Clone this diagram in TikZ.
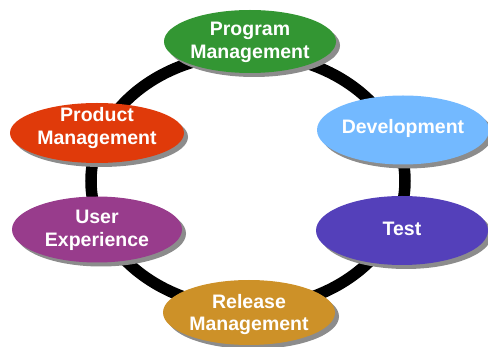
\documentclass[tikz,border=0pt]{standalone}
\usepackage{fontspec}
\setmainfont{Liberation Sans}
\usetikzlibrary{shapes.geometric,shadows}
\definecolor{pmgreen}{RGB}{51,150,51}
\definecolor{prodred}{RGB}{224,58,10}
\definecolor{devblue}{RGB}{115,185,255}
\definecolor{testpurple}{RGB}{84,64,186}
\definecolor{uxmagenta}{RGB}{152,60,140}
\definecolor{relgold}{RGB}{205,145,40}
\definecolor{shadowgray}{RGB}{140,140,140}
\tikzset{
  phase/.style={ellipse, inner sep=0pt, minimum width=172pt, minimum height=65pt,
    drop shadow={fill=shadowgray, opacity=1, shadow xshift=4pt, shadow yshift=-4pt}},
  phasetext/.style={inner sep=0pt, text=white, align=center,
    font=\bfseries\fontsize{19.5}{22.5}\selectfont},
  ring/.style={line width=11.5pt, draw=black}
}
\begin{document}
\begin{tikzpicture}[x=1pt,y=-1pt]
\useasboundingbox (0,0) rectangle (488,347);
\coordinate (ringc) at (248,181);
\draw[ring] (ringc) ellipse [x radius=157pt, y radius=127pt];
\node[phase, fill=pmgreen, minimum height=63pt] (pm) at (250,41.5) {};
\node[phase, fill=devblue, minimum height=69pt] (dev) at (403,130) {};
\node[phase, fill=testpurple, minimum height=69pt] (test) at (402,230.5) {};
\node[phase, fill=relgold] (rel) at (249,312.5) {};
\node[phase, fill=uxmagenta, minimum width=170pt, minimum height=66pt] (ux) at (97,229.5) {};
\node[phase, fill=prodred, minimum width=174pt, minimum height=60pt] (prod) at (97,133) {};
\node[phasetext] (pmt) at ([yshift=-1pt]pm.center) {Program\\Management};
\node[phasetext] (devt) at ([yshift=2pt]dev.center) {Development};
\node[phasetext] (testt) at ([yshift=2pt]test.center) {Test};
\node[phasetext] (relt) at ([yshift=-2pt]rel.center) {Release\\Management};
\node[phasetext] (uxt) at ([yshift=-1pt]ux.center) {User\\Experience};
\node[phasetext] (prodt) at ([yshift=5pt]prod.center) {Product\\Management};
\end{tikzpicture}
\end{document}
